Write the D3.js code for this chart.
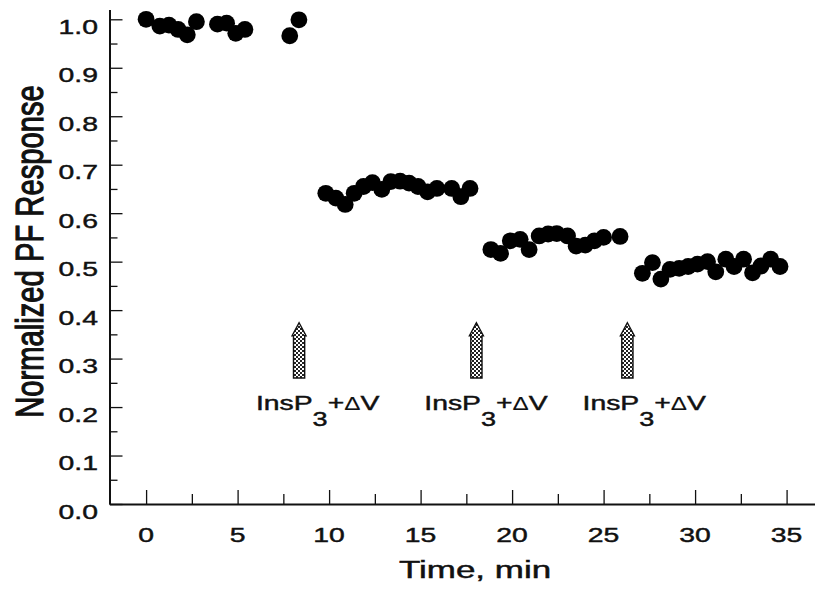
<!DOCTYPE html>
<html>
<head>
<meta charset="utf-8">
<script src="https://cdn.jsdelivr.net/npm/d3@7"></script>
<style>
  body { margin: 0; background: #fff; }
  text { font-family: "Liberation Sans", Arial, sans-serif; font-weight: normal; fill: #111; stroke: #111; stroke-width: 0.45px; }
  .axis path, .axis line { stroke: #111; }
</style>
</head>
<body>
<div id="viz"></div>
<script>
// readings, four recording periods
var t1 = [0, 0.75, 1.25, 1.75, 2.25, 2.75, 3.9, 4.4, 4.9, 5.4, 7.85, 8.35];
var v1 = [1.0, 0.986, 0.988, 0.979, 0.968, 0.995, 0.99, 0.992, 0.971, 0.979, 0.966, 0.999];
var t2 = [9.82, 10.37, 10.88, 11.37, 11.88, 12.37, 12.88, 13.37, 13.88, 14.37, 14.86, 15.38, 15.89, 16.7, 17.2, 17.7];
var v2 = [0.641, 0.631, 0.618, 0.641, 0.655, 0.663, 0.649, 0.665, 0.666, 0.662, 0.655, 0.644, 0.651, 0.651, 0.634, 0.651];
var t3 = [18.84, 19.37, 19.9, 20.44, 20.93, 21.48, 21.97, 22.44, 23.03, 23.5, 24.0, 24.5, 25.0, 25.9];
var v3 = [0.525, 0.517, 0.543, 0.546, 0.525, 0.553, 0.557, 0.558, 0.553, 0.532, 0.534, 0.543, 0.55, 0.552];
var t4 = [27.12, 27.67, 28.13, 28.63, 29.13, 29.62, 30.13, 30.68, 31.13, 31.68, 32.13, 32.65, 33.14, 33.6, 34.13, 34.64];
var v4 = [0.476, 0.498, 0.464, 0.484, 0.486, 0.49, 0.495, 0.5, 0.479, 0.505, 0.49, 0.505, 0.477, 0.491, 0.505, 0.49];

// stimulus arrows (time, tip value, tail value) and their labels
var arrow_t = [8.36, 18.05, 26.3];
var arrow_top = 0.374, arrow_bottom = 0.26;
var label_t = [6.0, 15.2, 23.85];
var label_v = 0.194;

var x_ticks = [0, 5, 10, 15, 20, 25, 30, 35];
var x_minor = [2.5, 7.5, 12.5, 17.5, 22.5, 27.5, 32.5];
var y_ticks = [0, 0.1, 0.2, 0.3, 0.4, 0.5, 0.6, 0.7, 0.8, 0.9, 1.0];
var y_minor = [0.05, 0.15, 0.25, 0.35, 0.45, 0.55, 0.65, 0.75, 0.85, 0.95];

var width = 815, height = 589;
var stretch = 1.35; // the scanned lettering is wider than normal

var svg = d3.select("#viz").append("svg").attr("width", width).attr("height", height);
svg.append("rect").attr("width", width).attr("height", height).attr("fill", "#fff");

var x = d3.scaleLinear().domain([-2, 36.7]).range([109.5, 817.7]);
var y = d3.scaleLinear().domain([0, 1.02]).range([504, 9.6]);

// stipple fill for the arrows
var pat = svg.append("defs").append("pattern")
    .attr("id", "stipple")
    .attr("patternUnits", "userSpaceOnUse")
    .attr("width", 4).attr("height", 4);
pat.append("rect").attr("width", 4).attr("height", 4).attr("fill", "#fff");
pat.append("rect").attr("width", 2).attr("height", 2).attr("fill", "#222");
pat.append("rect").attr("x", 2).attr("y", 2).attr("width", 2).attr("height", 2).attr("fill", "#222");

// axes, ticks point inward
svg.append("g").attr("class", "axis")
    .attr("transform", "translate(0," + y(0) + ")")
    .call(d3.axisBottom(x).tickValues(x_minor).tickSize(-10).tickSizeOuter(0).tickFormat(""))
    .call(function(g) { g.select(".domain").remove(); g.selectAll("line").attr("stroke-width", 1.3); });
svg.append("g").attr("class", "axis")
    .attr("transform", "translate(0," + y(0) + ")")
    .call(d3.axisBottom(x).tickValues(x_ticks).tickSize(-14).tickSizeOuter(0).tickFormat(""))
    .call(function(g) { g.select(".domain").attr("stroke-width", 2); g.selectAll("line").attr("stroke-width", 1.3); });

svg.append("g").attr("class", "axis")
    .attr("transform", "translate(" + x(-2) + ",0)")
    .call(d3.axisLeft(y).tickValues(y_minor).tickSize(-8).tickSizeOuter(0).tickFormat(""))
    .call(function(g) { g.select(".domain").remove(); g.selectAll("line").attr("stroke-width", 1.3); });
svg.append("g").attr("class", "axis")
    .attr("transform", "translate(" + x(-2) + ",0)")
    .call(d3.axisLeft(y).tickValues(y_ticks).tickSize(-13).tickSizeOuter(0).tickFormat(""))
    .call(function(g) { g.select(".domain").attr("stroke-width", 2); g.selectAll("line").attr("stroke-width", 1.3); });

// tick labels
svg.selectAll(".xlab").data(x_ticks).enter().append("text")
    .attr("class", "xlab")
    .attr("transform", function(d) { return "translate(" + x(d) + ",541.5) scale(" + stretch + ",1)"; })
    .attr("text-anchor", "middle")
    .style("font-size", "21px")
    .text(function(d) { return d; });

svg.selectAll(".ylab").data(y_ticks).enter().append("text")
    .attr("class", "ylab")
    .attr("transform", function(d) { return "translate(98,"+ (y(d) + 14.5) + ") scale(" + stretch + ",1)"; })
    .attr("text-anchor", "end")
    .style("font-size", "21px")
    .text(function(d) { return d3.format(".1f")(d); });

// axis titles
svg.append("text")
    .attr("transform", "translate(399,578) scale(1.52,1)")
    .style("font-size", "23px")
    .text("Time, min");

svg.append("text")
    .attr("transform", "translate(42.5,251.5) scale(1.32,1) rotate(-90)")
    .attr("text-anchor", "middle")
    .style("font-size", "29.2px")
    .style("stroke-width", "0.9px")
    .text("Normalized PF Response");

// data points
var series = [[t1, v1], [t2, v2], [t3, v3], [t4, v4]];
series.forEach(function(s) {
  svg.append("g").selectAll("circle")
    .data(s[0].map(function(t, i) { return { t: t, v: s[1][i] }; }))
    .enter().append("circle")
      .attr("cx", function(d) { return x(d.t); })
      .attr("cy", function(d) { return y(d.v); })
      .attr("r", 8.4)
      .attr("fill", "#000");
});

// arrows
svg.selectAll(".arrow").data(arrow_t).enter().append("path")
    .attr("class", "arrow")
    .attr("d", function(d) {
      var cx = x(d), top = y(arrow_top), bot = y(arrow_bottom);
      var hw = 7, sw = 5.6, hh = 13;
      return "M" + cx + "," + top +
        " L" + (cx + hw) + "," + (top + hh) +
        " L" + (cx + sw) + "," + (top + hh) +
        " L" + (cx + sw) + "," + bot +
        " L" + (cx - sw) + "," + bot +
        " L" + (cx - sw) + "," + (top + hh) +
        " L" + (cx - hw) + "," + (top + hh) + " Z";
    })
    .attr("fill", "url(#stipple)")
    .attr("stroke", "#111")
    .attr("stroke-width", 1.4);

var lab = svg.selectAll(".alab").data(label_t).enter().append("text")
    .attr("class", "alab")
    .attr("transform", function(d) { return "translate(" + x(d) + "," + y(label_v) + ") scale(" + stretch + ",1)"; })
    .style("font-size", "21px");
lab.append("tspan").text("InsP");
lab.append("tspan").attr("dy", 16).style("font-size", "20px").text("3");
lab.append("tspan").attr("dy", -16).text("+");
lab.append("tspan").style("font-size", "18px").style("stroke-width", "0.1px").text("Δ");
lab.append("tspan").text("V");
</script>
</body>
</html>
